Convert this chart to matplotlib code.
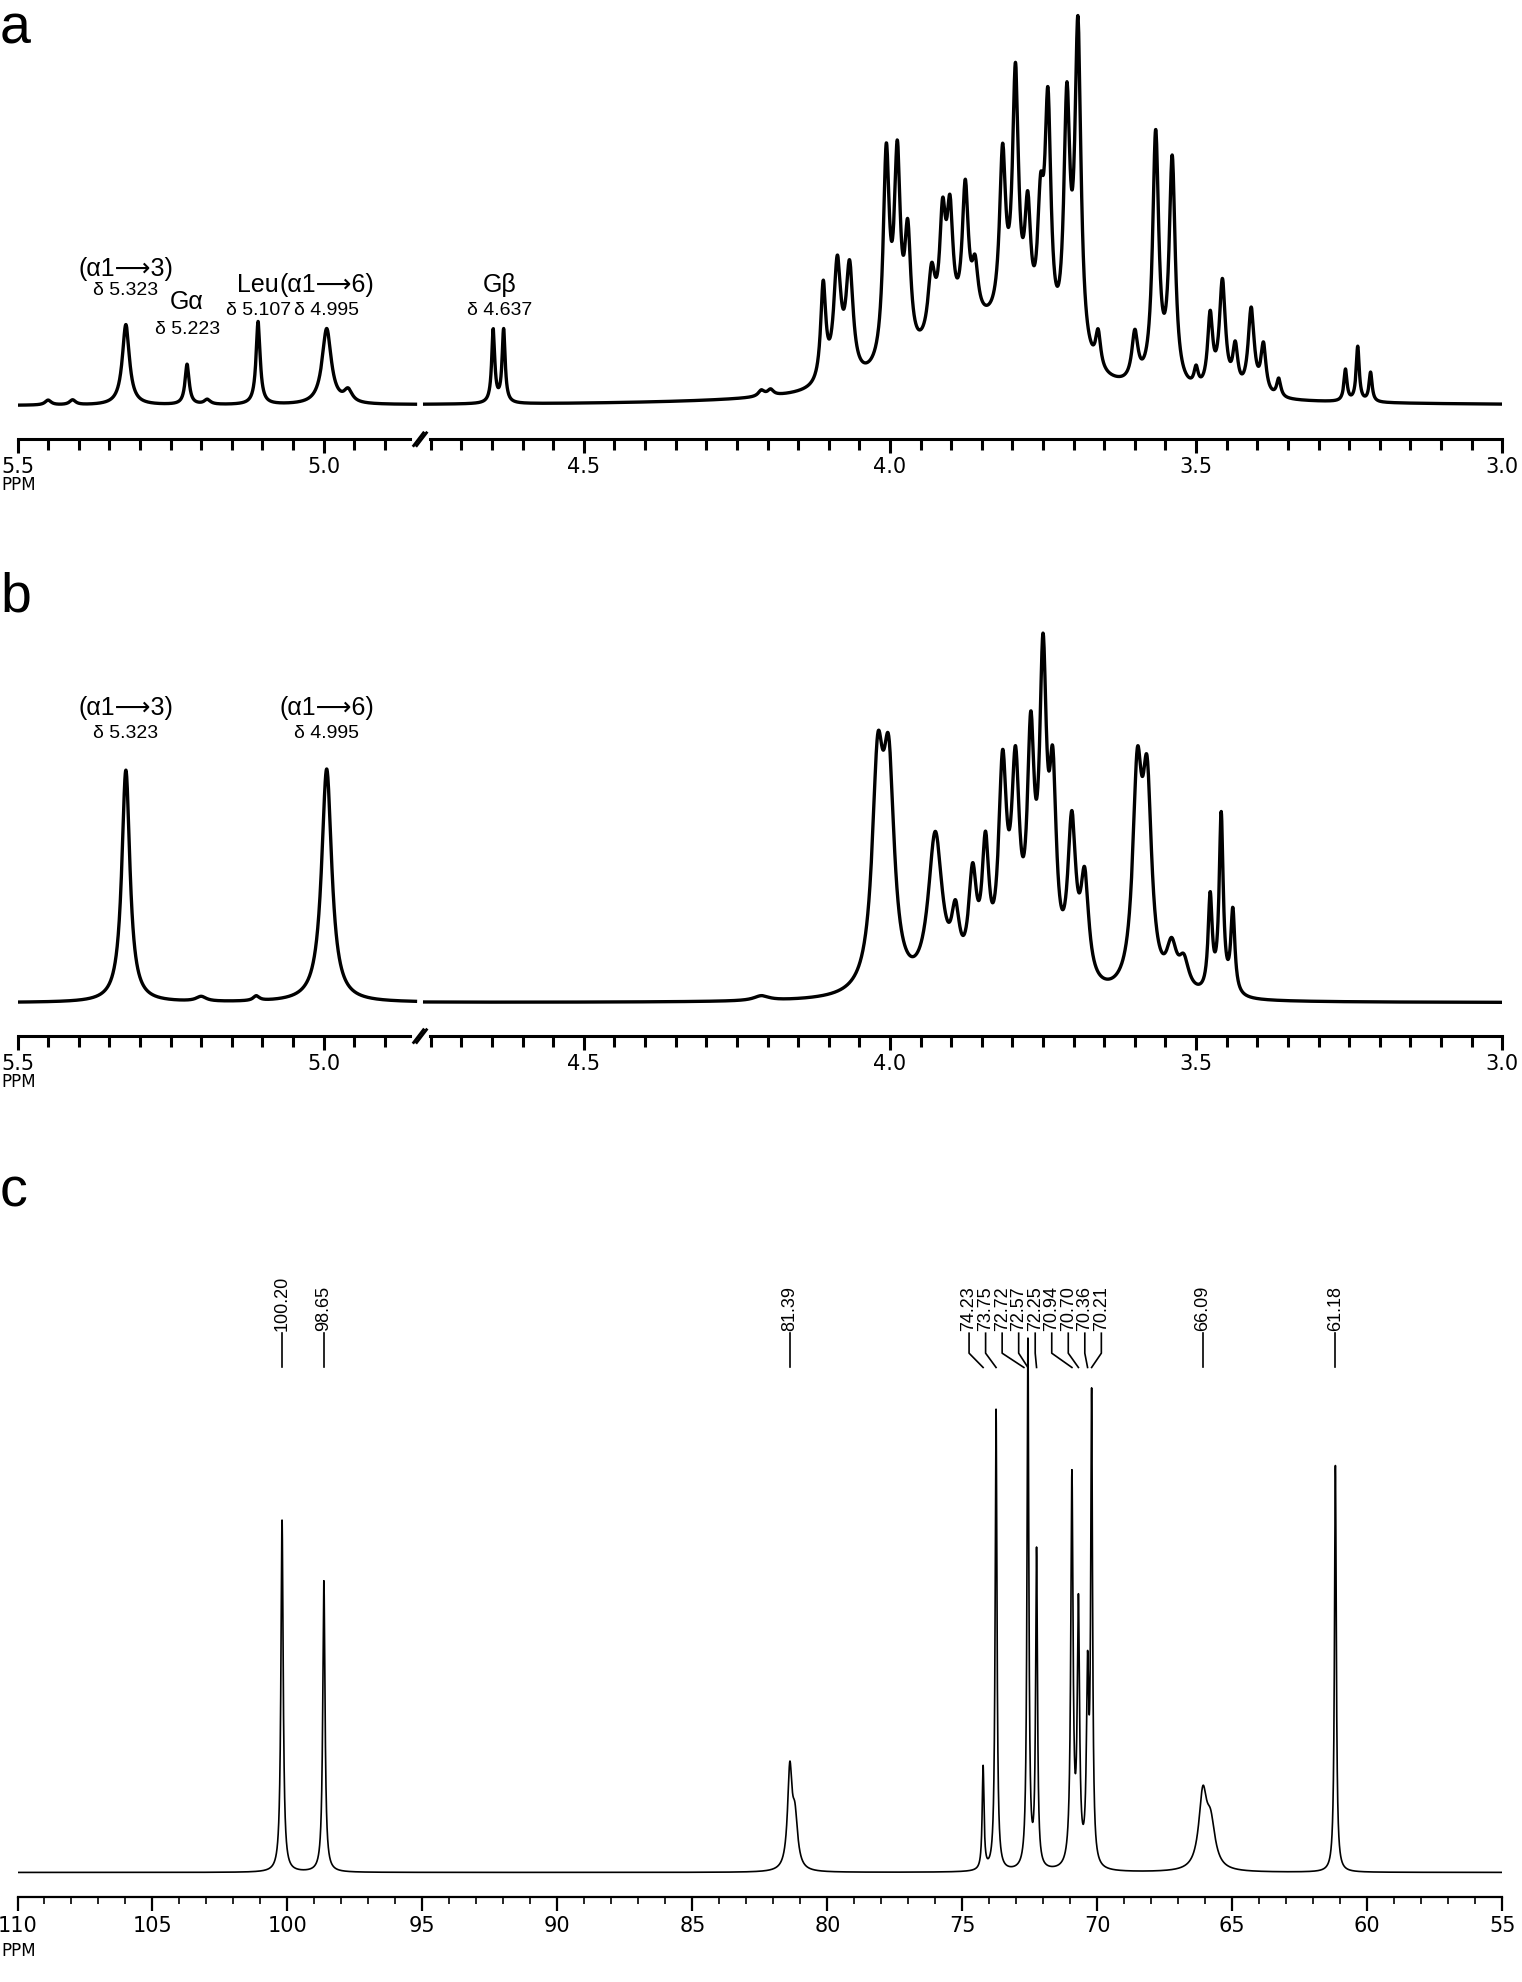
import numpy as np
import matplotlib
matplotlib.use("Agg")
import matplotlib.pyplot as plt

# ---------------- data ----------------
# panel a: 1H peaks (ppm, height, half-width)
a_pos = [5.45, 5.41, 5.323, 5.223, 5.19, 5.107, 4.995, 4.96, 4.648, 4.631, 4.21, 4.195, 4.109,
         4.086, 4.066, 4.006, 3.988, 3.971, 3.932, 3.914, 3.902, 3.877, 3.861, 3.816, 3.795,
         3.775, 3.754, 3.742, 3.711, 3.693, 3.66, 3.60, 3.566, 3.539, 3.50, 3.477, 3.457,
         3.436, 3.41, 3.39, 3.365, 3.256, 3.236, 3.215, 3.85]
a_hgt = [4, 4, 66, 33, 4, 68, 62, 10, 60, 60, 5, 5, 80,
         95, 90, 170, 160, 95, 55, 90, 90, 110, 40, 135, 205,
         95, 95, 190, 200, 270, 30, 40, 205, 185, 15, 60, 90,
         35, 70, 40, 15, 26, 45, 24, 60]
a_wid = [0.006, 0.006, 0.007, 0.004, 0.006, 0.004, 0.009, 0.008, 0.003, 0.003, 0.006, 0.006, 0.005,
         0.007, 0.007, 0.006, 0.006, 0.006, 0.007, 0.006, 0.006, 0.006, 0.006, 0.006, 0.006,
         0.006, 0.006, 0.006, 0.006, 0.006, 0.005, 0.006, 0.006, 0.006, 0.004, 0.005, 0.006,
         0.005, 0.006, 0.005, 0.004, 0.003, 0.003, 0.003, 0.12]

# panel b: 1H peaks
b_pos = [5.323, 5.20, 5.11, 4.995, 4.21, 4.02, 4.002, 3.926, 3.893, 3.865, 3.844, 3.816, 3.795,
         3.77, 3.75, 3.734, 3.703, 3.682, 3.596, 3.58, 3.54, 3.52, 3.477, 3.459, 3.44]
b_hgt = [195, 4, 4, 196, 4, 175, 170, 130, 50, 85, 105, 170, 165,
         185, 250, 150, 130, 85, 170, 160, 35, 25, 80, 150, 70]
b_wid = [0.008, 0.01, 0.006, 0.010, 0.015, 0.011, 0.011, 0.014, 0.008, 0.008, 0.007, 0.008, 0.008,
         0.007, 0.007, 0.007, 0.008, 0.008, 0.009, 0.009, 0.01, 0.01, 0.004, 0.004, 0.004]

# panel c: 13C peaks
c_pos = [100.20, 98.65, 81.39, 81.2, 74.23, 73.75, 72.57, 72.25, 70.94, 70.70, 70.36, 70.21, 66.09, 65.8, 61.18]
c_hgt = [290, 240, 80, 40, 85, 380, 435, 260, 320, 210, 150, 380, 60, 35, 335]
c_wid = [0.05, 0.05, 0.1, 0.12, 0.04, 0.04, 0.04, 0.04, 0.05, 0.05, 0.05, 0.04, 0.18, 0.2, 0.04]
c_labels = ["100.20", "98.65", "81.39", "74.23", "73.75", "72.72", "72.57", "72.25",
            "70.94", "70.70", "70.36", "70.21", "66.09", "61.18"]
c_label_pos = [100.20, 98.65, 81.39, 74.23, 73.75, 72.72, 72.57, 72.25, 70.94, 70.70, 70.36, 70.21, 66.09, 61.18]

a_ticklabels = ["5.5", "5.0", "4.5", "4.0", "3.5", "3.0"]
c_ticklabels = ["110", "105", "100", "95", "90", "85", "80", "75", "70", "65", "60", "55"]

BREAK_HI, BREAK_LO = 4.85, 4.76
SHIFT = BREAK_HI - BREAK_LO - 0.015
ARROW = "\u27f6"


def spectrum(x, pos, hgt, wid):
    y = np.zeros_like(x)
    for p, h, w in zip(pos, hgt, wid):
        y += h * w**2 / ((x - p)**2 + w**2)
    return y


def mapx(ppm):
    ppm = np.asarray(ppm, dtype=float)
    return np.where(ppm >= BREAK_HI - 1e-9, ppm - SHIFT, ppm)


fig = plt.figure(figsize=(15.22, 19.83), dpi=100)
LW = 2.4
lab_font = ["Liberation Sans", "DejaVu Sans"]
L, W = 0.0115, 0.9755


def h_panel(ax, pos, hgt, wid, ymax):
    for lo, hi in [(BREAK_HI, 5.52), (2.98, BREAK_LO)]:
        x = np.linspace(lo, hi, 4000)
        y = spectrum(x, pos, hgt, wid)
        ax.plot(mapx(x), y, color="black", lw=LW)
    ax.set_xlim(float(mapx(5.5)), 3.0)
    ax.set_ylim(-0.085 * ymax, ymax)
    for s in ["top", "left", "right"]:
        ax.spines[s].set_visible(False)
    ax.spines["bottom"].set_linewidth(2.2)
    ax.set_yticks([])
    major = [5.5, 5.0, 4.5, 4.0, 3.5, 3.0]
    ax.set_xticks(mapx(major))
    ax.set_xticklabels(a_ticklabels, fontsize=15)
    minor = [v for v in np.arange(3.0, 5.5, 0.05) if v > BREAK_HI + 0.01 or v < BREAK_LO - 0.01]
    ax.set_xticks(mapx(minor), minor=True)
    ax.tick_params(axis="x", which="major", length=10, width=2.2, pad=2)
    ax.tick_params(axis="x", which="minor", length=8, width=2.2)
    xb = float(mapx(BREAK_HI))
    xb2 = BREAK_LO
    ax.plot([xb, xb2], [ax.get_ylim()[0]] * 2, color="white", lw=5, clip_on=False, zorder=5)
    for xx in [xb - 0.005, xb2 + 0.005]:
        ax.plot([xx + 0.008, xx - 0.008], [-0.015, 0.015], transform=ax.get_xaxis_transform(),
                color="black", lw=2, clip_on=False, zorder=6)
    ax.text(-0.011, -0.085, "PPM", transform=ax.transAxes, fontsize=12, ha="left", va="top")


# ---- panel a ----
axa = fig.add_axes([L, 0.778, W, 0.215])
h_panel(axa, a_pos, a_hgt, a_wid, 322)
fig.text(0.0, 0.998, "a", fontsize=40, ha="left", va="top", family=lab_font)
ann_a = [(5.323, "(α1" + ARROW + "3)", "δ 5.323", 103, 88),
         (5.223, "Gα", "δ 5.223", 76, 56),
         (5.107, "Leu", "δ 5.107", 90, 72),
         (4.995, "(α1" + ARROW + "6)", "δ 4.995", 90, 72),
         (4.637, "Gβ", "δ 4.637", 90, 72)]
for p, t1, t2, y1, y2 in ann_a:
    x = float(mapx(p))
    axa.text(x, y1, t1, fontsize=18, ha="center", va="bottom", family=lab_font)
    axa.text(x, y2, t2, fontsize=14, ha="center", va="bottom", family=lab_font)

# ---- panel b ----
axb = fig.add_axes([L, 0.477, W, 0.215])
h_panel(axb, b_pos, b_hgt, b_wid, 330)
fig.text(0.0, 0.712, "b", fontsize=40, ha="left", va="top", family=lab_font)
for p, t1, t2 in [(5.323, "(α1" + ARROW + "3)", "δ 5.323"), (4.995, "(α1" + ARROW + "6)", "δ 4.995")]:
    x = float(mapx(p))
    axb.text(x, 238, t1, fontsize=18, ha="center", va="bottom", family=lab_font)
    axb.text(x, 220, t2, fontsize=14, ha="center", va="bottom", family=lab_font)

# ---- panel c ----
axc = fig.add_axes([L, 0.043, W, 0.30])
x = np.linspace(110, 55, 30000)
axc.plot(x, spectrum(x, c_pos, c_hgt, c_wid), color="black", lw=1.2)
axc.set_xlim(110, 55)
ymax = 470
axc.set_ylim(-20, ymax)
for s in ["top", "left", "right"]:
    axc.spines[s].set_visible(False)
axc.spines["bottom"].set_linewidth(1.6)
axc.set_yticks([])
axc.set_xticks(np.arange(110, 54, -5))
axc.set_xticklabels(c_ticklabels, fontsize=15)
axc.set_xticks(np.arange(110, 54, -1), minor=True)
axc.tick_params(axis="x", which="major", length=10, width=1.6)
axc.tick_params(axis="x", which="minor", length=5, width=1.2)
axc.text(-0.011, -0.075, "PPM", transform=axc.transAxes, fontsize=12, ha="left", va="top")
fig.text(0.0, 0.412, "c", fontsize=40, ha="left", va="top", family=lab_font)

lab_x = []
for p in c_label_pos:
    lab_x.append(None if 69.5 < p < 75 else p)
cl = [i for i, v in enumerate(lab_x) if v is None]
spread = np.linspace(74.75, 69.85, len(cl))
for k, i in enumerate(cl):
    lab_x[i] = spread[k]
y_text_bottom = 0.945
y_mid = 0.91
y_end = 0.885
for p, lx, lab in zip(c_label_pos, lab_x, c_labels):
    axc.text(lx, ymax * y_text_bottom + 3, lab, rotation=90, fontsize=13, ha="center", va="bottom",
             family=lab_font)
    axc.plot([lx, lx, p], [ymax * y_text_bottom, ymax * y_mid, ymax * y_end], color="black", lw=1.2)

fig.savefig("out.png", dpi=100)
